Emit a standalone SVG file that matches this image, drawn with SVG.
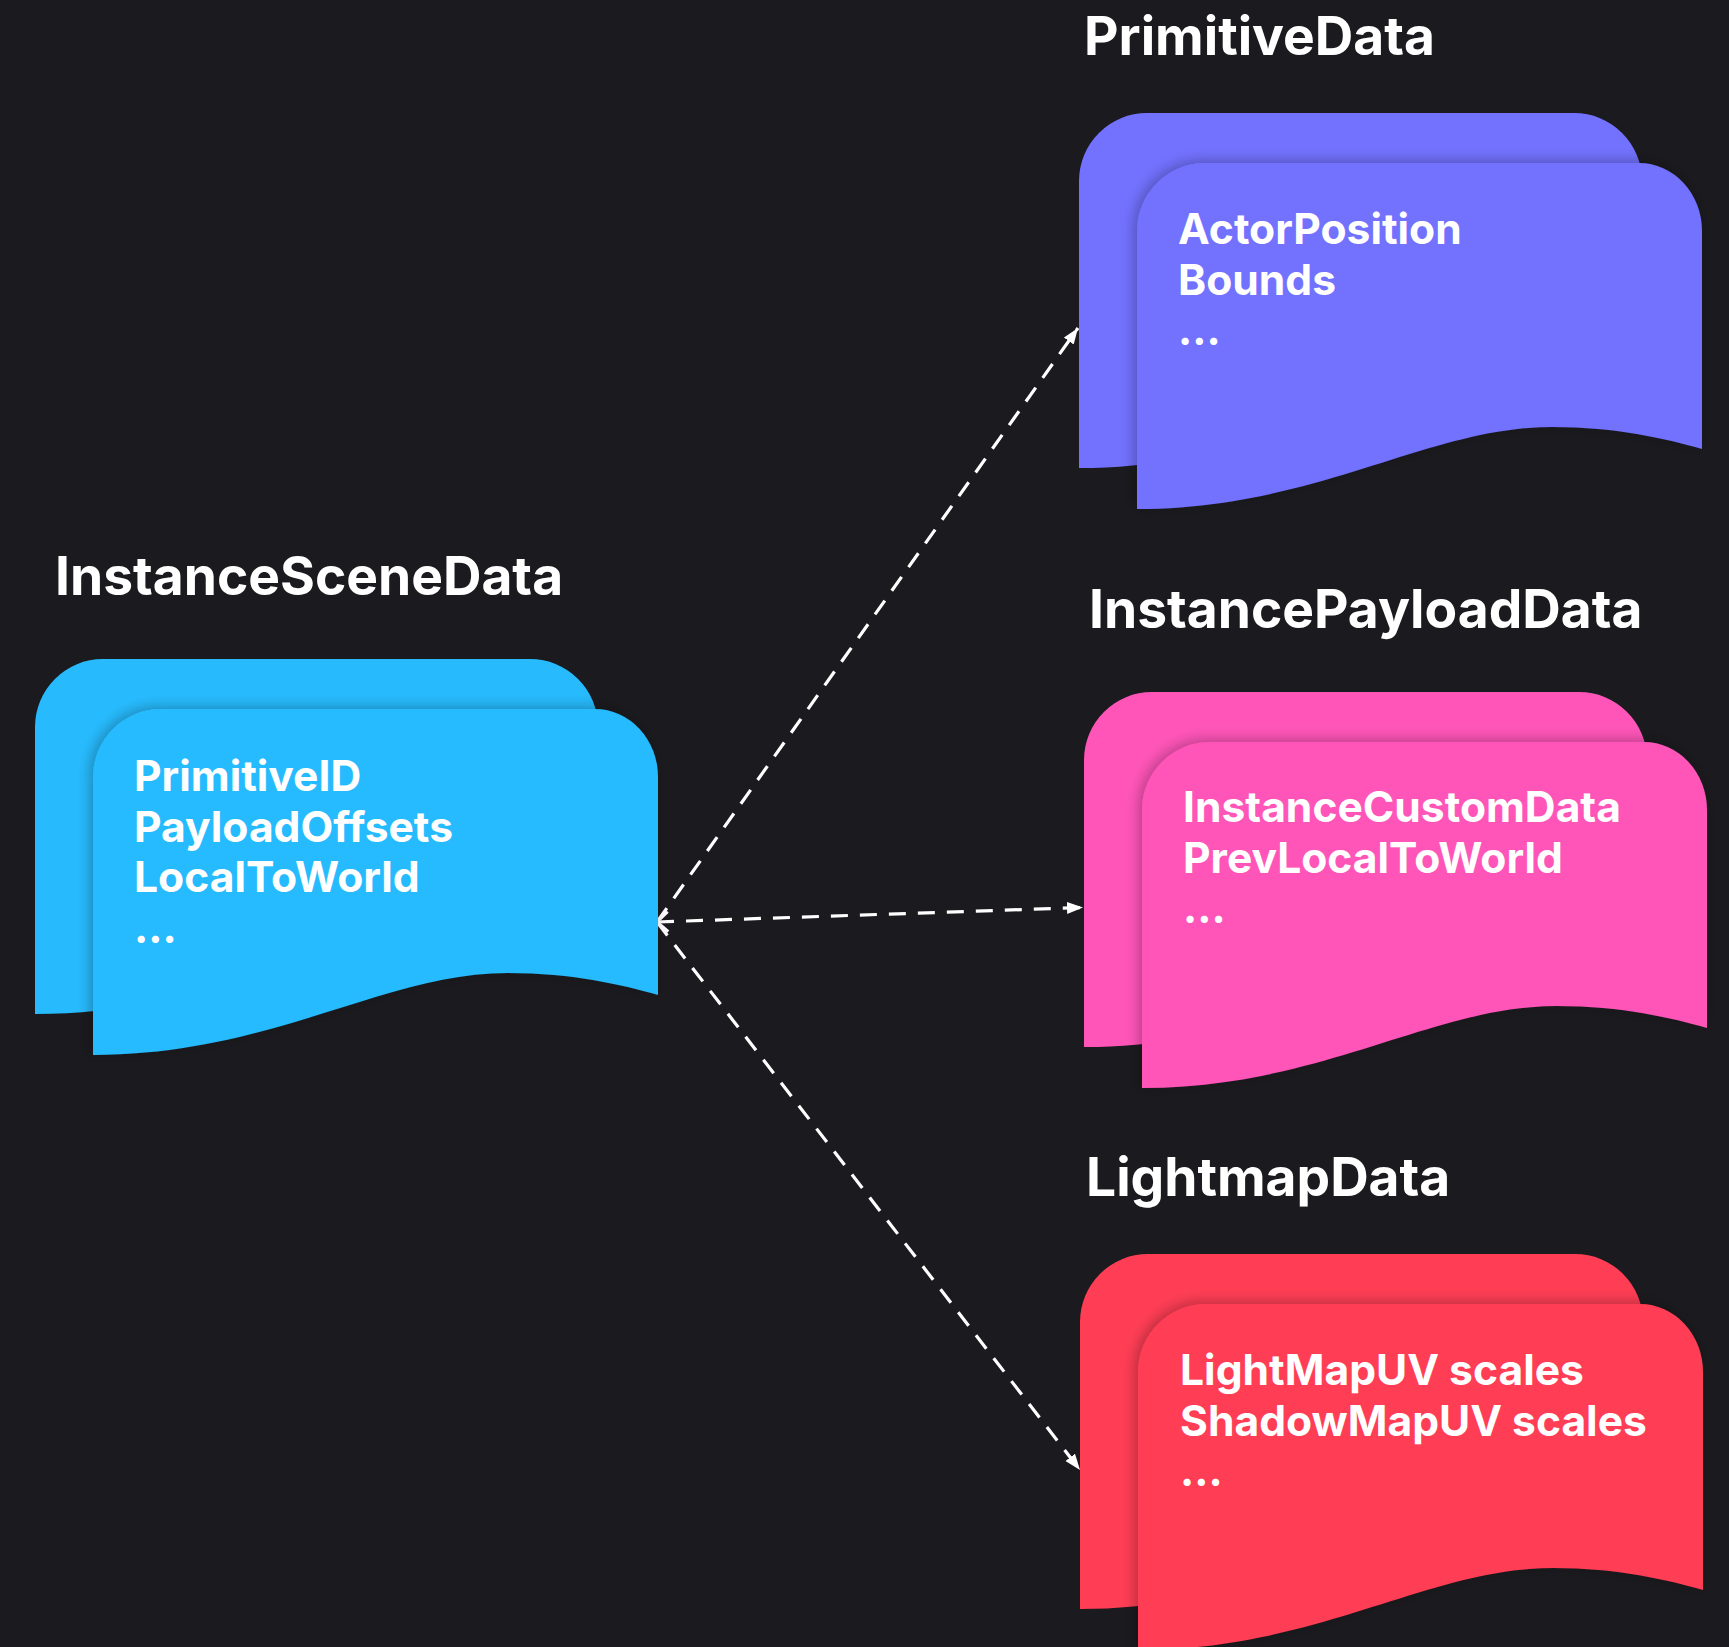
<svg xmlns="http://www.w3.org/2000/svg" xmlns:xlink="http://www.w3.org/1999/xlink" width="1729" height="1647" viewBox="0 0 1729 1647">
  <style>
    .title { font-family: Inter, "Liberation Sans", sans-serif; font-weight: 700; font-size: 53.3px; fill: #ffffff; }
    .field { font-family: Inter, "Liberation Sans", sans-serif; font-weight: 700; font-size: 42.6px; fill: #ffffff; }
    .link { fill: none; stroke: #ffffff; stroke-width: 3.2; stroke-dasharray: 17 12; }
    .blue { fill: #27bbfe; }
    .purple { fill: #7272ff; }
    .pink { fill: #ff55b9; }
    .red { fill: #ff3e55; }
  </style>
  <defs>
    <!-- sheet with a wavy lower edge; the back sheet hangs slightly lower -->
    <path id="sheet-back" d="M0 68 A68 68 0 0 1 68 0 L495 0 A68 68 0 0 1 563 68 L563 295 C528 285 478 273 413 273 C288 273 178 355 0 355 Z"/>
    <path id="sheet-front" d="M0 68 A68 68 0 0 1 68 0 L502 0 A63 68 0 0 1 565 68 L565 286 C530 276 480 264 415 264 C290 264 180 346 0 346 Z"/>
    <filter id="lift" x="-10%" y="-10%" width="120%" height="120%">
      <feDropShadow dx="-3" dy="-2" stdDeviation="7" flood-color="#000000" flood-opacity="0.28"/>
    </filter>
    <marker id="head" markerUnits="userSpaceOnUse" markerWidth="18" markerHeight="14" refX="16" refY="6" orient="auto">
      <path d="M0 0 L16 6 L0 12 Z" fill="#ffffff"/>
    </marker>
    <marker id="tail" markerUnits="userSpaceOnUse" markerWidth="16" markerHeight="24" refX="2" refY="11" orient="auto">
      <path d="M13 1 L2 11 L13 21" fill="none" stroke="#ffffff" stroke-width="3"/>
    </marker>
  </defs>

  <rect width="1729" height="1647" fill="#1b1b1f"/>

  <!-- connectors -->
  <g id="connectors">
    <path class="link" d="M657 922 L1078 328" marker-end="url(#head)"/>
    <path class="link" d="M657 922 L1083 907.5" marker-start="url(#tail)" marker-end="url(#head)"/>
    <path class="link" d="M657 922 L1080 1470" marker-end="url(#head)"/>
  </g>

  <!-- InstanceSceneData -->
  <g id="instance-scene-data">
    <text class="title" x="55" y="595">InstanceSceneData</text>
    <g transform="translate(35 659)">
      <use xlink:href="#sheet-back" class="blue"/>
      <use xlink:href="#sheet-front" class="blue" x="58" y="50" filter="url(#lift)"/>
      <text class="field" x="99" y="132">PrimitiveID</text>
      <text class="field" x="99" y="182.7">PayloadOffsets</text>
      <text class="field" x="99" y="233.4">LocalToWorld</text>
      <text class="field" x="99" y="284.1">...</text>
    </g>
  </g>

  <!-- PrimitiveData -->
  <g id="primitive-data">
    <text class="title" x="1084" y="55">PrimitiveData</text>
    <g transform="translate(1079 113)">
      <use xlink:href="#sheet-back" class="purple"/>
      <use xlink:href="#sheet-front" class="purple" x="58" y="50" filter="url(#lift)"/>
      <text class="field" x="99" y="131">ActorPosition</text>
      <text class="field" x="99" y="181.7">Bounds</text>
      <text class="field" x="99" y="232.4">...</text>
    </g>
  </g>

  <!-- InstancePayloadData -->
  <g id="instance-payload-data">
    <text class="title" x="1089" y="628">InstancePayloadData</text>
    <g transform="translate(1084 692)">
      <use xlink:href="#sheet-back" class="pink"/>
      <use xlink:href="#sheet-front" class="pink" x="58" y="50" filter="url(#lift)"/>
      <text class="field" x="99" y="130">InstanceCustomData</text>
      <text class="field" x="99" y="180.7">PrevLocalToWorld</text>
      <text class="field" x="99" y="231.4">...</text>
    </g>
  </g>

  <!-- LightmapData -->
  <g id="lightmap-data">
    <text class="title" x="1086" y="1196">LightmapData</text>
    <g transform="translate(1080 1254)">
      <use xlink:href="#sheet-back" class="red"/>
      <use xlink:href="#sheet-front" class="red" x="58" y="50" filter="url(#lift)"/>
      <text class="field" x="100" y="131">LightMapUV scales</text>
      <text class="field" x="100" y="181.7">ShadowMapUV scales</text>
      <text class="field" x="100" y="232.4">...</text>
    </g>
  </g>
</svg>
